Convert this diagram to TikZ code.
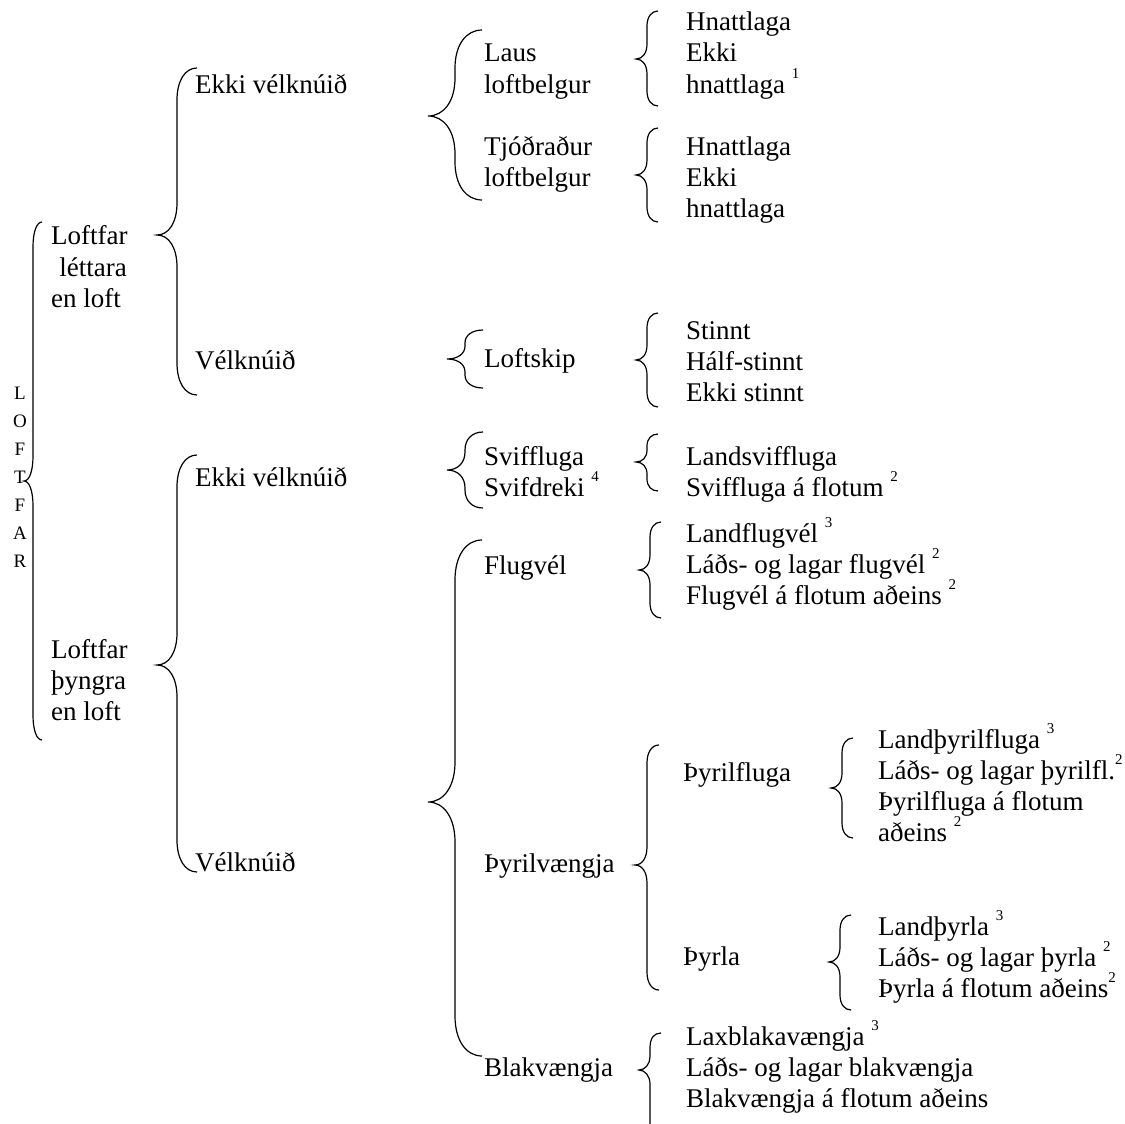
\documentclass[tikz,border=0pt]{standalone}
\usepackage{fontspec}
\setmainfont{Liberation Serif}
\usepackage{tikz}

% small raised footnote mark
\newcommand{\fnote}[1]{\raisebox{0.55em}{\fontsize{15}{15}\selectfont #1}}
% brace: x, top, bottom, tip, width, curve height
\newcommand{\brc}[6]{%
  \draw[brline] (#1+#5,#2) .. controls (#1+0.4*#5,#2) and (#1,#2+0.4*#6) .. (#1,#2+#6)
    -- (#1,#4-#6) .. controls (#1,#4-0.4*#6) and (#1-0.4*#5,#4) .. (#1-#5,#4)
    .. controls (#1-0.4*#5,#4) and (#1,#4+0.4*#6) .. (#1,#4+#6)
    -- (#1,#3-#6) .. controls (#1,#3-0.4*#6) and (#1+0.4*#5,#3) .. (#1+#5,#3);}

\tikzset{
  txt/.style={anchor=base west, inner sep=0pt, font=\fontsize{27}{31}\selectfont},
  lett/.style={anchor=base, inner sep=0pt, font=\fontsize{19}{19}\selectfont},
  brline/.style={line width=1.2pt}
}

\begin{document}
\begin{tikzpicture}[x=1pt,y=-1pt]
  \useasboundingbox (0,0) rectangle (1125,1124);

  % left column
  \foreach \c [count=\i] in {L,O,F,T,F,A,R}
    \node[lett] (lf\i) at (20,371+28*\i) {\c};
  \brc{33}{222}{740}{481}{9}{25}

  \node[txt] (lta1) at (51,244) {Loftfar};
  \node[txt] (lta2) at (51,276) {\hspace*{0.3em}léttara};
  \node[txt] (lta3) at (51,307) {en loft};
  \node[txt] (thy1) at (51,658) {Loftfar};
  \node[txt] (thy2) at (51,689) {þyngra};
  \node[txt] (thy3) at (51,720) {en loft};

  % second column
  \brc{177}{68}{395}{235}{20}{32}
  \brc{177}{455}{872}{665}{20}{32}
  \node[txt] (ekv1) at (195,94) {Ekki vélknúið};
  \node[txt] (vel1) at (195,369) {Vélknúið};
  \node[txt] (ekv2) at (195,486) {Ekki vélknúið};
  \node[txt] (vel2) at (195,871) {Vélknúið};

  % third column
  \brc{455}{30}{200}{116}{27}{38}
  \brc{465}{330}{388}{359}{18}{13}
  \brc{465}{432}{508}{470}{18}{18}
  \brc{455}{540}{1056}{802}{27}{40}
  \node[txt] (laus1) at (484,62) {Laus};
  \node[txt] (laus2) at (484,93) {loftbelgur};
  \node[txt] (tjod1) at (484,155) {Tjóðraður};
  \node[txt] (tjod2) at (484,186) {loftbelgur};
  \node[txt] (lskip) at (484,367) {Loftskip};
  \node[txt] (svif1) at (484,465) {Sviffluga};
  \node[txt] (svif2) at (484,496) {Svifdreki \fnote{4}};
  \node[txt] (flug) at (484,574) {Flugvél};
  \node[txt] (thyv) at (484,872) {Þyrilvængja};
  \node[txt] (blak) at (484,1076) {Blakvængja};

  % fourth column
  \brc{647}{11}{106}{59}{11}{15}
  \brc{647}{128}{222}{175}{11}{15}
  \brc{647}{313}{407}{360}{11}{15}
  \brc{647}{434}{491}{462}{11}{12}
  \brc{650}{522}{618}{570}{11}{15}
  \brc{647}{745}{990}{865}{12}{18}
  \draw[brline] (661,1033) .. controls (654,1033) and (650,1038) .. (650,1048)
    -- (650,1057) .. controls (650,1064) and (645,1070) .. (639,1070)
    .. controls (645,1070) and (650,1076) .. (650,1084) -- (650,1124);

  \foreach \t [count=\i] in {Hnattlaga,Ekki,hnattlaga \fnote{1}}
    \node[txt] (hna\i) at (686,0+31*\i) {\t};
  \foreach \t [count=\i] in {Hnattlaga,Ekki,hnattlaga}
    \node[txt] (hnb\i) at (686,124+31*\i) {\t};
  \foreach \t [count=\i] in {Stinnt,Hálf-stinnt,Ekki stinnt}
    \node[txt] (stn\i) at (686,308+31*\i) {\t};
  \foreach \t [count=\i] in {Landsviffluga,Sviffluga á flotum \fnote{2}}
    \node[txt] (lsv\i) at (686,434+31*\i) {\t};
  \foreach \t [count=\i] in {Landflugvél \fnote{3},Láðs- og lagar flugvél \fnote{2},Flugvél á flotum aðeins \fnote{2}}
    \node[txt] (lfv\i) at (686,511+31*\i) {\t};
  \node[txt] (thfl) at (683,781) {Þyrilfluga};
  \node[txt] (thyr) at (683,965) {Þyrla};
  \foreach \t [count=\i] in {Laxblakavængja \fnote{3},Láðs- og lagar blakvængja,Blakvængja á flotum aðeins}
    \node[txt] (lbv\i) at (686,1014+31*\i) {\t};

  % fifth column
  \brc{842}{738}{838}{788}{11}{15}
  \brc{840}{915}{1010}{962}{11}{15}
  \foreach \t [count=\i] in {Landþyrilfluga \fnote{3},Láðs- og lagar þyrilfl.\fnote{2},Þyrilfluga á flotum,aðeins \fnote{2}}
    \node[txt] (lth\i) at (878,717+31*\i) {\t};
  \foreach \t [count=\i] in {Landþyrla \fnote{3},Láðs- og lagar þyrla \fnote{2},Þyrla á flotum aðeins\fnote{2}}
    \node[txt] (lty\i) at (878,904+31*\i) {\t};
\end{tikzpicture}
\end{document}
